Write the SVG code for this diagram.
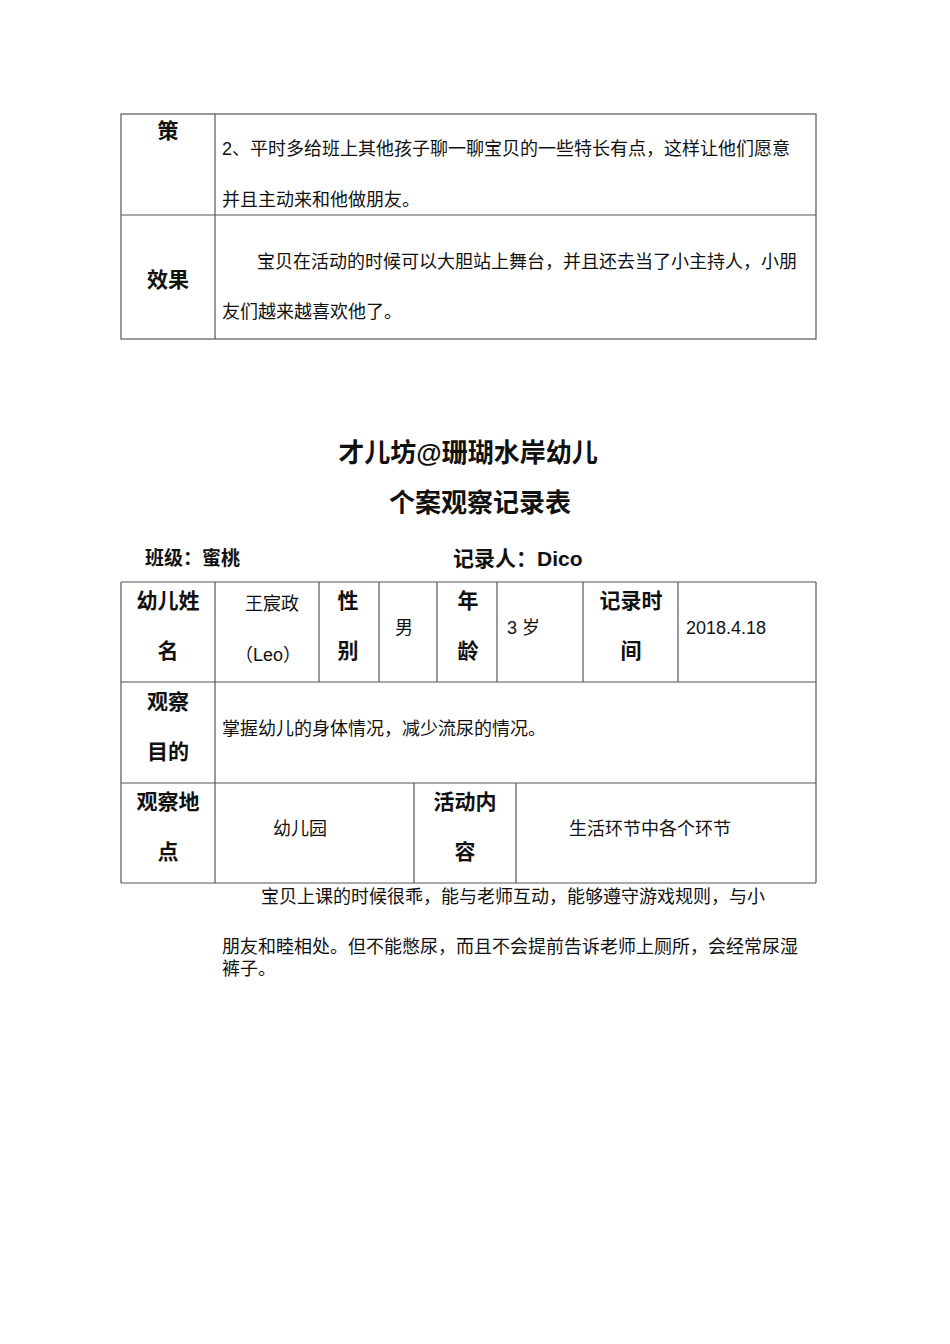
<svg xmlns="http://www.w3.org/2000/svg" width="950" height="1344" viewBox="0 0 950 1344">
<style>
.l{stroke:#555;stroke-width:1.2;fill:none}
.t{font-family:"Liberation Sans","Noto Sans CJK SC",sans-serif;font-size:18px;fill:#111}
.b{font-family:"Liberation Sans","Noto Sans CJK SC",sans-serif;font-size:21px;font-weight:bold;fill:#111}
.h{font-family:"Liberation Sans","Noto Sans CJK SC",sans-serif;font-size:26px;font-weight:bold;fill:#111;text-anchor:middle}
.c{text-anchor:middle}
</style>
<rect width="950" height="1344" fill="#fff"/>
<g id="table1">
<rect class="l" x="121" y="114" width="695" height="225"/>
<line class="l" x1="215" y1="114" x2="215" y2="339"/>
<line class="l" x1="121" y1="215" x2="816" y2="215"/>
<text class="b c" x="168" y="138">策</text>
<text class="t" x="222" y="155">2、平时多给班上其他孩子聊一聊宝贝的一些特长有点，这样让他们愿意</text>
<text class="t" x="222" y="206">并且主动来和他做朋友。</text>
<text class="b c" x="168" y="287">效果</text>
<text class="t" x="257" y="268">宝贝在活动的时候可以大胆站上舞台，并且还去当了小主持人，小朋</text>
<text class="t" x="222" y="318">友们越来越喜欢他了。</text>
</g>
<g id="title">
<text class="h" x="468" y="462">才儿坊@珊瑚水岸幼儿</text>
<text class="h" x="480" y="512">个案观察记录表</text>
<text class="b" x="145" y="565" style="font-size:19px">班级：蜜桃</text>
<text class="b" x="453" y="566">记录人：Dico</text>
</g>
<g id="table2">
<line class="l" x1="121" y1="582" x2="816" y2="582"/>
<line class="l" x1="121" y1="682" x2="816" y2="682"/>
<line class="l" x1="121" y1="783" x2="816" y2="783"/>
<line class="l" x1="121" y1="883" x2="816" y2="883"/>
<line class="l" x1="121" y1="582" x2="121" y2="883"/>
<line class="l" x1="816" y1="582" x2="816" y2="883"/>
<line class="l" x1="215" y1="582" x2="215" y2="883"/>
<line class="l" x1="319" y1="582" x2="319" y2="682"/>
<line class="l" x1="379" y1="582" x2="379" y2="682"/>
<line class="l" x1="437" y1="582" x2="437" y2="682"/>
<line class="l" x1="497" y1="582" x2="497" y2="682"/>
<line class="l" x1="583" y1="582" x2="583" y2="682"/>
<line class="l" x1="678" y1="582" x2="678" y2="682"/>
<line class="l" x1="414" y1="783" x2="414" y2="883"/>
<line class="l" x1="516" y1="783" x2="516" y2="883"/>
<text class="b c" x="168" y="608">幼儿姓</text>
<text class="b c" x="168" y="658">名</text>
<text class="t c" x="272" y="610">王宸政</text>
<text class="t c" x="268" y="661">（Leo）</text>
<text class="b c" x="348" y="608">性</text>
<text class="b c" x="348" y="658">别</text>
<text class="t c" x="404" y="634">男</text>
<text class="b c" x="468" y="608">年</text>
<text class="b c" x="468" y="658">龄</text>
<text class="t" x="507" y="634">3 岁</text>
<text class="b c" x="631" y="608">记录时</text>
<text class="b c" x="631" y="658">间</text>
<text class="t" x="686" y="634">2018.4.18</text>
<text class="b c" x="168" y="709">观察</text>
<text class="b c" x="168" y="759">目的</text>
<text class="t" x="222" y="735">掌握幼儿的身体情况，减少流尿的情况。</text>
<text class="b c" x="168" y="809">观察地</text>
<text class="b c" x="168" y="859">点</text>
<text class="t c" x="300" y="835">幼儿园</text>
<text class="b c" x="465" y="809">活动内</text>
<text class="b c" x="465" y="859">容</text>
<text class="t c" x="650" y="835">生活环节中各个环节</text>
</g>
<g id="notes">
<text class="t" x="261" y="903">宝贝上课的时候很乖，能与老师互动，能够遵守游戏规则，与小</text>
<text class="t" x="222" y="953">朋友和睦相处。但不能憋尿，而且不会提前告诉老师上厕所，会经常尿湿</text>
<text class="t" x="222" y="975">裤子。</text>
</g>
</svg>
